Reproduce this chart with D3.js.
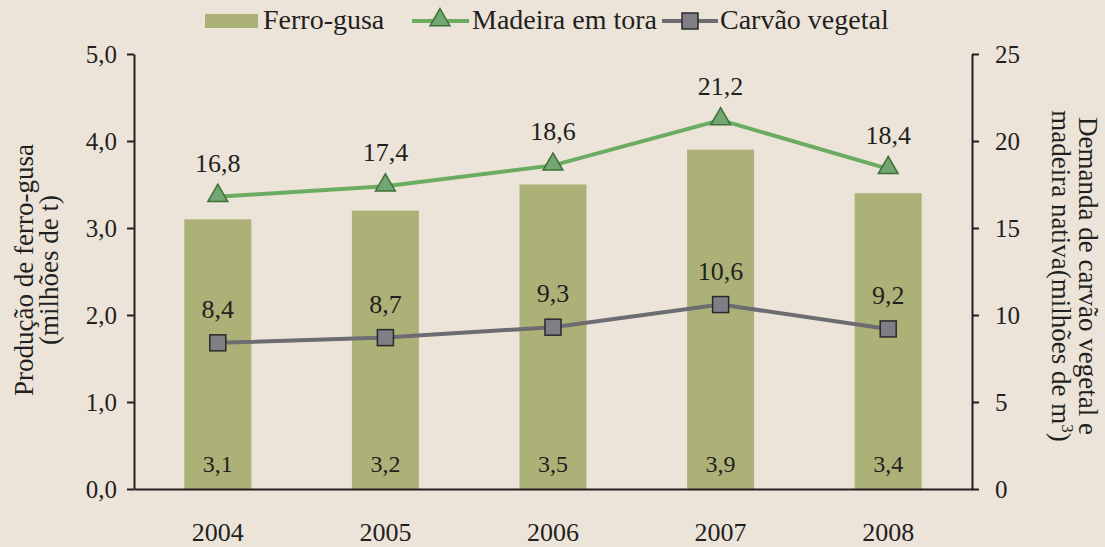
<!DOCTYPE html>
<html>
<head>
<meta charset="utf-8">
<script src="https://cdn.jsdelivr.net/npm/d3@7"></script>
<style>
   body { margin: 0; background: #ede4d9; }
   svg { display: block; }
   svg text { font-family: "Liberation Serif", "DejaVu Serif", serif; }
   .axis path, .axis line { stroke: #231f20; stroke-width: 2; }
   .axis text { font-size: 25px; fill: #231f20; }
</style>
</head>
<body>
<svg class="chart" width="1105" height="547"></svg>
<script>
var years = ['2004', '2005', '2006', '2007', '2008'];
var ferroGusa = [3.1, 3.2, 3.5, 3.9, 3.4];
var madeiraEmTora = [16.8, 17.4, 18.6, 21.2, 18.4];
var carvaoVegetal = [8.4, 8.7, 9.3, 10.6, 9.2];
var leftTicks = [0, 1, 2, 3, 4, 5];
var rightTicks = [0, 5, 10, 15, 20, 25];

var colors = {
   bar: '#acb277',
   madeira: '#6aac62',
   madeiraMarker: '#72a673',
   madeiraMarkerStroke: '#3f7035',
   carvao: '#6c6c72',
   carvaoMarker: '#7e7e84',
   carvaoMarkerStroke: '#2a2a2a',
   text: '#231f20'
};

var serif = '"Liberation Serif", "DejaVu Serif", serif';

var svg = d3.select('svg.chart');

var bounds = {left: 134, right: 972, top: 54, bottom: 489};

var xScale = d3.scaleBand()
   .domain(years)
   .range([bounds.left, bounds.right])
   .paddingInner(0.6)
   .paddingOuter(0.3);

var yLeft = d3.scaleLinear().domain([0, 5]).range([bounds.bottom, bounds.top]);
var yRight = d3.scaleLinear().domain([0, 25]).range([bounds.bottom, bounds.top]);

var commaFormat = function (fmt) {
   var f = d3.format(fmt);
   return function (v) {
      return f(v).replace('.', ',');
   };
};

var center = function (d, i) {
   return xScale(years[i]) + xScale.bandwidth() / 2;
};

// bars
svg.append('g')
   .selectAll('rect')
   .data(ferroGusa)
   .enter().append('rect')
   .attr('x', function (d, i) { return xScale(years[i]); })
   .attr('y', function (d) { return yLeft(d); })
   .attr('width', xScale.bandwidth())
   .attr('height', function (d) { return yLeft(0) - yLeft(d); })
   .attr('fill', colors.bar);

// bar labels
svg.append('g')
   .selectAll('text')
   .data(ferroGusa)
   .enter().append('text')
   .attr('x', center)
   .attr('y', yLeft(0) - 17)
   .attr('text-anchor', 'middle')
   .style('font-family', serif)
   .style('font-size', '24px')
   .attr('fill', colors.text)
   .text(commaFormat('.1f'));

// axes
svg.append('g')
   .attr('class', 'axis')
   .attr('font-family', serif)
   .attr('transform', 'translate(' + bounds.left + ',0)')
   .call(d3.axisLeft(yLeft).tickValues(leftTicks).tickSize(7).tickSizeOuter(0).tickPadding(10)
      .tickFormat(commaFormat('.1f')));

svg.append('g')
   .attr('class', 'axis')
   .attr('font-family', serif)
   .attr('transform', 'translate(' + bounds.right + ',0)')
   .call(d3.axisRight(yRight).tickValues(rightTicks).tickSize(7).tickSizeOuter(0).tickPadding(16));

var xAxis = svg.append('g')
   .attr('class', 'axis')
   .attr('font-family', serif)
   .attr('transform', 'translate(0,' + bounds.bottom + ')')
   .call(d3.axisBottom(xScale).tickSize(0).tickSizeOuter(0).tickPadding(52));

xAxis.selectAll('.tick text').attr('dy', 0).style('font-size', '26px');

// lines
var lineFor = function (values) {
   return d3.line()
      .x(function (d, i) { return center(d, i); })
      .y(function (d) { return yRight(d); })(values);
};

svg.append('path')
   .attr('d', lineFor(madeiraEmTora))
   .attr('fill', 'none')
   .attr('stroke', colors.madeira)
   .attr('stroke-width', 4);

svg.append('path')
   .attr('d', lineFor(carvaoVegetal))
   .attr('fill', 'none')
   .attr('stroke', colors.carvao)
   .attr('stroke-width', 4);

var triangle = d3.symbol().type(d3.symbolTriangle).size(170);

svg.append('g')
   .selectAll('path')
   .data(madeiraEmTora)
   .enter().append('path')
   .attr('d', triangle)
   .attr('transform', function (d, i) {
      return 'translate(' + center(d, i) + ',' + (yRight(d) - 1) + ')';
   })
   .attr('fill', colors.madeiraMarker)
   .attr('stroke', colors.madeiraMarkerStroke)
   .attr('stroke-width', 1.5);

svg.append('g')
   .selectAll('rect')
   .data(carvaoVegetal)
   .enter().append('rect')
   .attr('x', function (d, i) { return center(d, i) - 8; })
   .attr('y', function (d) { return yRight(d) - 8; })
   .attr('width', 16)
   .attr('height', 16)
   .attr('fill', colors.carvaoMarker)
   .attr('stroke', colors.carvaoMarkerStroke)
   .attr('stroke-width', 1.5);

// point labels
[madeiraEmTora, carvaoVegetal].forEach(function (series) {
   svg.append('g')
      .selectAll('text')
      .data(series)
      .enter().append('text')
      .attr('x', center)
      .attr('y', function (d) { return yRight(d) - 25; })
      .attr('text-anchor', 'middle')
      .style('font-family', serif)
      .style('font-size', '26px')
      .attr('fill', colors.text)
      .text(commaFormat('.1f'));
});

// axis titles
var leftTitle = svg.append('text')
   .attr('transform', 'translate(33,270) rotate(-90)')
   .attr('text-anchor', 'middle')
   .style('font-family', serif)
   .style('font-size', '27px')
   .attr('fill', colors.text);
leftTitle.append('tspan').attr('x', 0).attr('y', 0).text('Produção de ferro-gusa');
leftTitle.append('tspan').attr('x', 0).attr('y', 25).text('(milhões de t)');

var rightTitle = svg.append('text')
   .attr('transform', 'translate(1079,276) rotate(90)')
   .attr('text-anchor', 'middle')
   .style('font-family', serif)
   .style('font-size', '27px')
   .attr('fill', colors.text);
rightTitle.append('tspan').attr('x', 0).attr('y', 0).text('Demanda de carvão vegetal e');
rightTitle.append('tspan').attr('x', 0).attr('y', 27).text('madeira nativa(milhões de m')
   .append('tspan').attr('dy', -10).style('font-size', '17px').text('3');
rightTitle.select('tspan:nth-child(2)').append('tspan').attr('dy', 10).text(')');

// legend
var legend = svg.append('g').attr('class', 'legend')
   .style('font-family', serif)
   .style('font-size', '28px');

legend.append('rect')
   .attr('x', 205).attr('y', 14).attr('width', 53).attr('height', 14)
   .attr('fill', colors.bar);
legend.append('text')
   .attr('x', 263).attr('y', 29)
   .attr('fill', colors.text)
   .text('Ferro-gusa');

legend.append('line')
   .attr('x1', 412).attr('x2', 469).attr('y1', 21).attr('y2', 21)
   .attr('stroke', colors.madeira).attr('stroke-width', 4);
legend.append('path')
   .attr('d', triangle)
   .attr('transform', 'translate(440,20)')
   .attr('fill', colors.madeiraMarker)
   .attr('stroke', colors.madeiraMarkerStroke)
   .attr('stroke-width', 1.5);
legend.append('text')
   .attr('x', 472).attr('y', 29)
   .attr('fill', colors.text)
   .text('Madeira em tora');

legend.append('line')
   .attr('x1', 662).attr('x2', 718).attr('y1', 21).attr('y2', 21)
   .attr('stroke', colors.carvao).attr('stroke-width', 4);
legend.append('rect')
   .attr('x', 682).attr('y', 13).attr('width', 16).attr('height', 16)
   .attr('fill', colors.carvaoMarker)
   .attr('stroke', colors.carvaoMarkerStroke)
   .attr('stroke-width', 1.5);
legend.append('text')
   .attr('x', 720).attr('y', 29)
   .attr('fill', colors.text)
   .text('Carvão vegetal');
</script>
</body>
</html>
